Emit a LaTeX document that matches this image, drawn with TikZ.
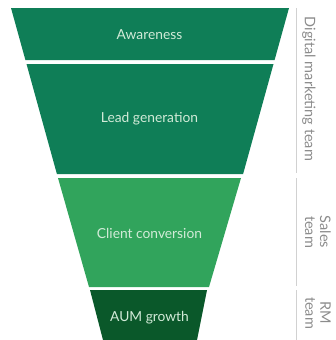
\documentclass[tikz,border=0pt]{standalone}
\usepackage{fontspec}
\setmainfont{Lato}
\usepackage{tikz}
\usetikzlibrary{positioning}
\definecolor{funneltop}{HTML}{0F7E57}
\definecolor{funnelmid}{HTML}{31A45C}
\definecolor{funnelend}{HTML}{0A582A}
\definecolor{stagetext}{HTML}{D2EBD8}
\definecolor{teamgray}{HTML}{8C8C8C}
\tikzset{stage/.style={text=stagetext,font=\fontsize{13.8}{15}\selectfont,inner sep=0pt}}
\tikzset{teamlabel/.style={text=teamgray,font=\fontsize{14.5}{15}\selectfont,
rotate=-90,align=center,inner sep=0pt}}
\tikzset{teamline/.style={draw=black!18,line width=0.8pt}}

\begin{document}
\begin{tikzpicture}[x=1pt,y=-1pt]
    \useasboundingbox (0,0) rectangle (336,340);

        % funnel bands, top to bottom
        \fill[funneltop] (11,8) -- (289,8) -- (274.6,60) -- (25.4,60) -- cycle;
        \fill[funneltop] (26.5,64) -- (273.5,64) -- (243.1,174) -- (56.9,174) -- cycle;
        \fill[funnelmid] (58,178) -- (241,178) -- (209,287) -- (89,287) -- cycle;
        \fill[funnelend] (90,290) -- (207,290) -- (197,340) -- (103,340) -- cycle;

        \node[stage] (awareness) at (149.5,35) {Awareness};
        \node[stage] (leadgen) at (149.5,119) {Lead generation};
        \node[stage] (conversion) at (149.5,233) {Client conversion};
        \node[stage] (aum) at (149.5,318) {AUM growth};

        % teams on the right
        \coordinate (digitaltop) at (296,8);
        \coordinate (digitalbot) at (296,173);
        \coordinate (salestop) at (296,178);
        \coordinate (salesbot) at (296,286);
        \coordinate (rmtop) at (296,290);
        \coordinate (rmbot) at (296,340);
        \draw[teamline] (digitaltop) -- (digitalbot);
        \draw[teamline] (salestop) -- (salesbot);
        \draw[teamline] (rmtop) -- (rmbot);

        \node[teamlabel] (digital) at (309,89) {Digital marketing team};
        \node[teamlabel] (sales) at (318,232) {Sales\\team};
        \node[teamlabel] (rm) at (318,313) {RM\\team};

    \end{tikzpicture}
\end{document}
